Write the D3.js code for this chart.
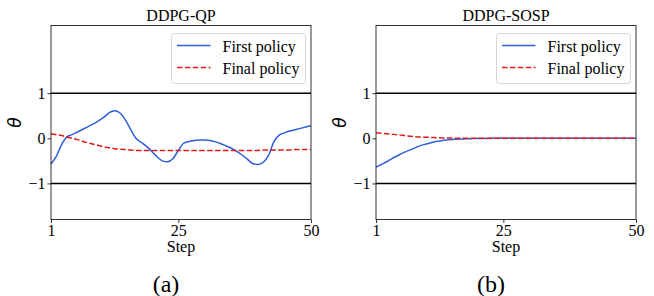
<!DOCTYPE html>
<html><head><meta charset="utf-8">
<script src="https://cdn.jsdelivr.net/npm/d3@7"></script>
<style>body{margin:0;background:#fff;}svg{display:block;}</style>
</head><body>
<script>
const steps = d3.range(1, 51);
const qpFirst = [-0.57,-0.40,-0.14,0.03,0.08,0.14,0.20,0.26,0.32,0.39,
 0.47,0.57,0.61,0.56,0.41,0.20,0.00,-0.09,-0.18,-0.29,
 -0.41,-0.50,-0.52,-0.45,-0.27,-0.11,-0.07,-0.05,-0.04,-0.04,
 -0.05,-0.08,-0.12,-0.17,-0.22,-0.29,-0.37,-0.46,-0.56,-0.58,
 -0.53,-0.38,-0.08,0.07,0.12,0.16,0.19,0.22,0.25,0.28];
const qpFinal = [0.10,0.08,0.06,0.03,0.00,-0.03,-0.07,-0.10,-0.13,-0.16,
 -0.19,-0.21,-0.23,-0.24,-0.25,-0.26,-0.27,-0.27,-0.27,-0.27,
 -0.27,-0.27,-0.27,-0.27,-0.27,-0.27,-0.27,-0.27,-0.27,-0.27,
 -0.27,-0.27,-0.27,-0.27,-0.27,-0.27,-0.27,-0.27,-0.27,-0.27,
 -0.26,-0.26,-0.26,-0.26,-0.26,-0.26,-0.25,-0.25,-0.25,-0.25];
const sospFirst = [-0.64,-0.58,-0.52,-0.45,-0.39,-0.33,-0.28,-0.23,-0.18,-0.14,
 -0.11,-0.08,-0.06,-0.04,-0.03,-0.02,-0.015,-0.01,-0.008,-0.005,
 -0.003,-0.002,-0.001,0,0,0,0,0,0,0,0,0,0,0,0,0,0,0,0,0,0,0,0,0,0,0,0,0,0,0];
const sospFinal = [0.12,0.11,0.10,0.09,0.08,0.065,0.05,0.04,0.03,0.025,
 0.02,0.015,0.01,0.008,0.005,0.003,0.002,0.001,0,0,
 0,0,0,0,0,0,0,0,0,0,0,0,0,0,0,0,0,0,0,0,0,0,0,0,0,0,0,0,0,0];
const xTicks = [1, 25, 50];
const yTicks = [-1, 0, 1];
const boundLines = [-1, 1];
const titles = ["DDPG-QP", "DDPG-SOSP"];
const captions = ["(a)", "(b)"];
const seriesNames = ["First policy", "Final policy"];
const panels = [
  {first: qpFirst, final: qpFinal, left: 51},
  {first: sospFirst, final: sospFinal, left: 376}
];
const blue = "#2f5fd8", red = "#dd1a1a";
const W = 654, H = 296;
const svg = d3.select("body").append("svg").attr("width", W).attr("height", H);
const serif = "'Liberation Serif','Times New Roman',serif";
const fs = 16;

panels.forEach((p, i) => {
  const x = d3.scaleLinear().domain([1, 50]).range([p.left, p.left + 260]);
  const y = d3.scaleLinear().domain([-1.8, 2.5]).range([219.5, 25.5]);
  const g = svg.append("g");
  boundLines.forEach(b => {
    g.append("line").attr("x1", x(1)).attr("x2", x(50)).attr("y1", y(b)).attr("y2", y(b))
      .attr("stroke", "#000").attr("stroke-width", 1.5);
  });
  const line = d3.line().x((d, k) => x(steps[k])).y(d => y(d)).curve(d3.curveMonotoneX);
  g.append("path").datum(p.first).attr("d", line).attr("fill", "none")
    .attr("stroke", blue).attr("stroke-width", 1.5);
  g.append("path").datum(p.final).attr("d", line).attr("fill", "none")
    .attr("stroke", red).attr("stroke-width", 1.5).attr("stroke-dasharray", "5.5,2.4");
  const xa = g.append("g").attr("transform", `translate(0,${y(-1.8)})`)
    .call(d3.axisBottom(x).tickValues(xTicks).tickSize(3.5).tickPadding(1.5).tickFormat(d3.format("d")));
  const ya = g.append("g").attr("transform", `translate(${x(1)},0)`)
    .call(d3.axisLeft(y).tickValues(yTicks).tickSize(3.5).tickPadding(2).tickFormat(d => d < 0 ? "\u22121" : String(d)));
  [xa, ya].forEach(a => {
    a.select(".domain").remove();
    a.selectAll("line").attr("stroke", "#000").attr("stroke-width", 0.8);
    a.selectAll("text").attr("font-family", serif).attr("font-size", fs).attr("fill", "#000");
  });
  g.append("rect").attr("x", x(1)).attr("y", y(2.5)).attr("width", 260).attr("height", y(-1.8) - y(2.5))
    .attr("fill", "none").attr("stroke", "#000").attr("stroke-width", 0.8);
  g.append("text").attr("x", x(1) + 130).attr("y", 21).attr("text-anchor", "middle")
    .attr("font-family", serif).attr("font-size", fs).text(titles[i]);
  g.append("text").attr("x", x(1) + 130).attr("y", 252).attr("text-anchor", "middle")
    .attr("font-family", serif).attr("font-size", fs).text("Step");
  g.append("text").attr("transform", `translate(${x(1) - 30},${y(0.35)}) rotate(-90)`)
    .attr("text-anchor", "middle").attr("font-family", "'DejaVu Sans',sans-serif")
    .attr("font-style", "italic").attr("font-size", 17).text("\u03b8");
  g.append("text").attr("x", x(1) + 115).attr("y", 292).attr("text-anchor", "middle")
    .attr("font-family", serif).attr("font-size", 24).text(captions[i]);
  const lx = x(1) + 120.5, ly = 33.5;
  g.append("rect").attr("x", lx).attr("y", ly).attr("width", 134).attr("height", 50).attr("rx", 3)
    .attr("fill", "#fff").attr("stroke", "#d6d6d6").attr("stroke-width", 1);
  [[blue, null], [red, "5.5,2.4"]].forEach(([c, dash], k) => {
    const yy = 45.5 + k * 22;
    const l = g.append("line").attr("x1", lx + 5.5).attr("x2", lx + 39).attr("y1", yy).attr("y2", yy)
      .attr("stroke", c).attr("stroke-width", 1.5);
    if (dash) l.attr("stroke-dasharray", dash);
    g.append("text").attr("x", lx + 51).attr("y", yy + 6).attr("font-family", serif)
      .attr("font-size", fs).text(seriesNames[k]);
  });
});
</script>
</body></html>
